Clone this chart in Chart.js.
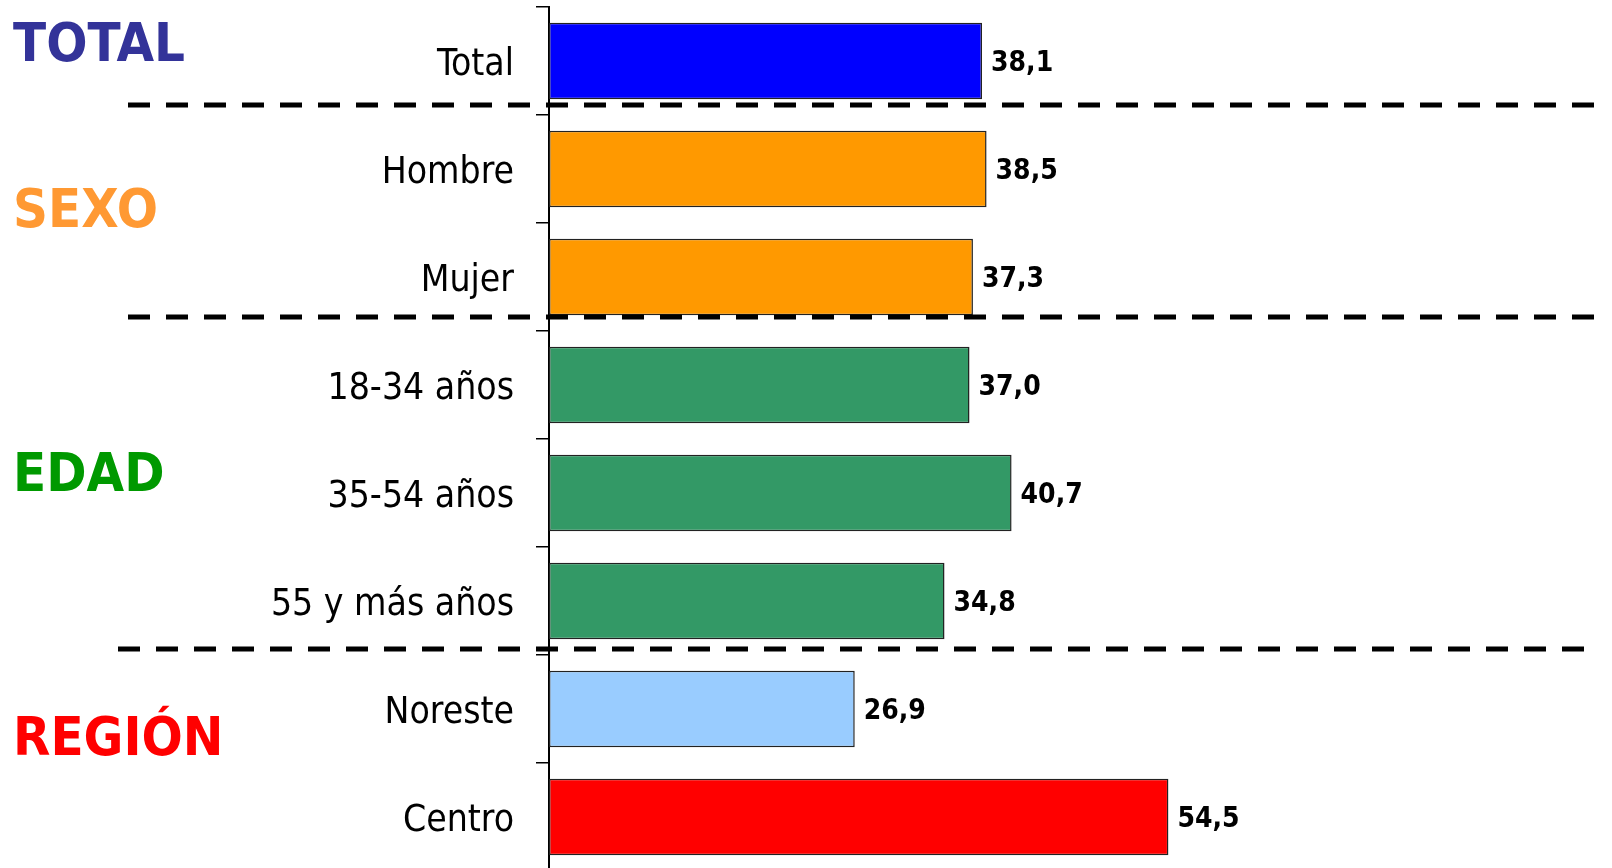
<!DOCTYPE html>
<html>
<head>
<meta charset="utf-8">
<script src="https://cdn.jsdelivr.net/npm/chart.js@4"></script>
<style>
  html, body { margin: 0; padding: 0; background: #fff; overflow: hidden; }
  #wrap { width: 1612px; height: 878px; }
</style>
</head>
<body>
<div id="wrap"><canvas id="barChart"></canvas></div>
<script>
// data
const categories = ['Total', 'Hombre', 'Mujer', '18-34 años', '35-54 años', '55 y más años', 'Noreste', 'Centro'];
const values = [38.1, 38.5, 37.3, 37.0, 40.7, 34.8, 26.9, 54.5];
const barColors = ['#0000FF', '#FF9900', '#FF9900', '#339966', '#339966', '#339966', '#99CCFF', '#FF0000'];
const groupNames = ['TOTAL', 'SEXO', 'EDAD', 'REGIÓN'];
const groupColors = ['#333399', '#FF9933', '#009900', '#FF0000'];

const FONT = "'DejaVu Sans Condensed', 'DejaVu Sans', sans-serif";

// group titles + dashed separators + value labels
const decor = {
    id: 'decor',
    afterDatasetsDraw(chart) {
        const ctx = chart.ctx;
        const y = chart.scales.y;

        // value labels
        const meta = chart.getDatasetMeta(0);
        ctx.save();
        ctx.font = 'bold 28px ' + FONT;
        ctx.fillStyle = '#000';
        ctx.textAlign = 'left';
        ctx.textBaseline = 'middle';
        meta.data.forEach((bar, i) => {
            ctx.fillText(values[i].toFixed(1).replace('.', ','), bar.x + 9, bar.y + 3);
        });
        ctx.restore();

        // dashed separators
        const seps = [[0.407, 128, 1606], [2.37, 128, 1606], [5.44, 118, 1597]];
        ctx.save();
        ctx.strokeStyle = '#000';
        ctx.lineWidth = 5;
        ctx.setLineDash([22, 16]);
        seps.forEach(s => {
            const py = Math.round(y.getPixelForValue(s[0]));
            ctx.beginPath();
            ctx.moveTo(s[1], py);
            ctx.lineTo(s[2], py);
            ctx.stroke();
        });
        ctx.restore();

        // group titles
        const titleY = [47, 213, 477, 741];
        ctx.save();
        ctx.font = 'bold 54px ' + FONT;
        ctx.textAlign = 'left';
        ctx.textBaseline = 'middle';
        groupNames.forEach((g, i) => {
            ctx.fillStyle = groupColors[i];
            ctx.fillText(g, 13, titleY[i]);
        });
        ctx.restore();
    }
};

const ctx1 = document.getElementById('barChart').getContext('2d');
new Chart(ctx1, {
    type: 'bar',
    data: {
        labels: categories,
        datasets: [{
            data: values,
            backgroundColor: barColors,
            borderColor: '#222',
            borderWidth: 1.5,
            borderSkipped: false,
            barPercentage: 0.71,
            categoryPercentage: 1
        }]
    },
    options: {
        indexAxis: 'y',
        responsive: true,
        maintainAspectRatio: false,
        animation: false,
        layout: { padding: { top: 7, right: 6, bottom: 7, left: 0 } },
        plugins: {
            legend: { display: false },
            tooltip: { enabled: false }
        },
        scales: {
            x: {
                display: false,
                min: 0,
                max: 93
            },
            y: {
                afterFit(scale) {
                    scale.width = 549;
                    scale.paddingTop = 0;
                    scale.paddingBottom = 0;
                },
                border: { display: true, color: '#000', width: 2 },
                grid: {
                    drawOnChartArea: false,
                    drawTicks: true,
                    tickLength: 13,
                    color: '#000',
                    lineWidth: 1.5
                },
                ticks: {
                    color: '#000',
                    padding: 22,
                    labelOffset: 4,
                    font: { family: FONT, size: 37 }
                }
            }
        }
    },
    plugins: [decor]
});
</script>
</body>
</html>
